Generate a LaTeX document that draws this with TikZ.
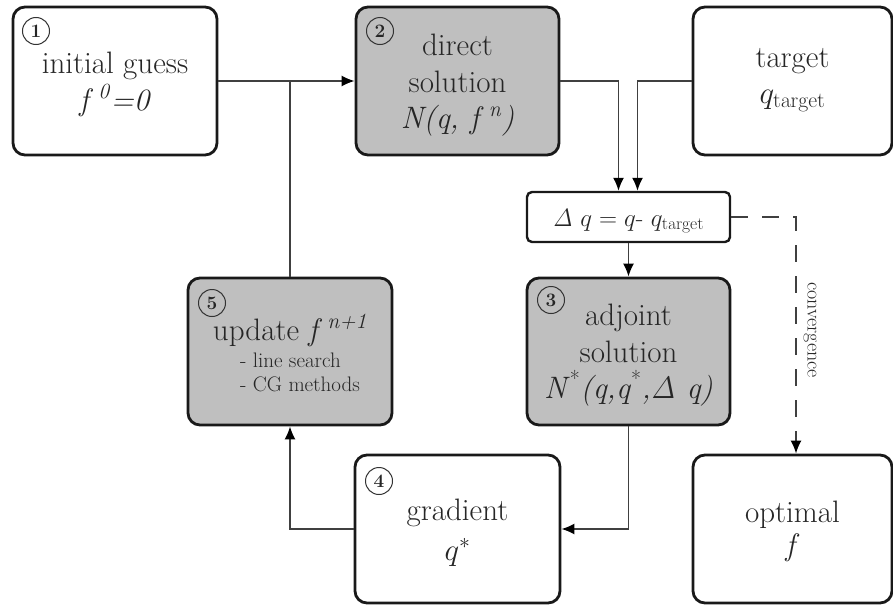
\RequirePackage{fix-cm}
\documentclass[tikz,border=0pt]{standalone}
\usetikzlibrary{arrows.meta}
\tikzset{
  box/.style={draw=black!90, line width=2.8pt, rounded corners=12pt, inner sep=0pt},
  graybox/.style={box, fill=black!25},
  big/.style={text=black!85, font=\fontsize{31}{37}\selectfont, anchor=base, inner sep=0pt},
  small/.style={text=black!85, font=\fontsize{21}{25}\selectfont, anchor=base west, inner sep=0pt},
  circnum/.style={draw=black!80, line width=1pt, circle, minimum size=27pt, inner sep=0pt, text=black!85, font=\fontsize{19}{21}\selectfont\bfseries},
  conn/.style={draw=black!75, line width=1.6pt},
  arr/.style={conn, -{Latex[length=13pt,width=11pt,color=black]}},
  dasharr/.style={arr, dash pattern=on 17pt off 14pt},
}
\begin{document}
\begin{tikzpicture}[x=1pt,y=-1pt]
\useasboundingbox (0,0) rectangle (893,605);
% boxes
\node[box, minimum width=204pt, minimum height=148pt] (b1) at (115,81) {};
\node[graybox, minimum width=203pt, minimum height=148pt] (b2) at (457.5,81) {};
\node[box, minimum width=199pt, minimum height=148pt] (tg) at (792.5,81) {};
\node[box, rounded corners=5pt, line width=2.4pt, minimum width=203pt, minimum height=50pt] (dq) at (628.5,217) {};
\node[graybox, minimum width=203pt, minimum height=147pt] (b3) at (628.5,351.5) {};
\node[graybox, minimum width=204pt, minimum height=147pt] (b5) at (290,351.5) {};
\node[box, minimum width=205pt, minimum height=148pt] (b4) at (457.5,529) {};
\node[box, minimum width=199pt, minimum height=148pt] (opt) at (792.5,529) {};
% numbers
\node[circnum] (n1) at (36,31) {1};
\node[circnum] (n2) at (380,31) {2};
\node[circnum] (n3) at (551,300) {3};
\node[circnum] (n4) at (379,481) {4};
\node[circnum] (n5) at (212,303) {5};
% texts
\node[big] (t1a) at (115,73) {initial guess};
\node[big] (t1b) at (115,110) {\textit{f}\,\textsuperscript{\textit{0}}\textit{=0}};
\node[big] (t2a) at (457.5,55) {direct};
\node[big] (t2b) at (457.5,92) {solution};
\node[big] (t2c) at (457.5,128) {\textit{N(q, f}\,\textsuperscript{\textit{n}}\textit{)}};
\node[big] (tga) at (792.5,67) {target};
\node[big] (tgb) at (792.5,103) {$q_{\mathrm{target}}$};
\node[text=black!85, font=\fontsize{25}{29}\selectfont, anchor=base, inner sep=0pt] (dqt) at (628.5,226) {$\mathit{\Delta}\ q = q$-\ $q_{\mathrm{target}}$};
\node[big] (t3a) at (628.5,325) {adjoint};
\node[big] (t3b) at (628.5,362) {solution};
\node[big] (t3c) at (628.5,398) {\textit{N}\textsuperscript{*}\textit{(q,q}\textsuperscript{*}\textit{,}$\mathit{\Delta}$\textit{\ q)}};
\node[big] (t5a) at (290,340) {update \textit{f}\,\textsuperscript{\textit{n+1}}};
\node[small] (t5b) at (240,367) {- line search};
\node[small] (t5c) at (240,391) {- CG methods};
\node[big] (t4a) at (457.5,520) {gradient};
\node[big] (t4b) at (457.5,560) {$q^{*}$};
\node[big] (toa) at (792.5,522) {optimal};
\node[big] (tob) at (792.5,555) {\textit{f}};
% connectors
\coordinate (j1) at (b5.north |- b1.east);
\draw[arr] (b1.east) -- (b2.west);
\draw[conn] (b5.north) -- (j1);
\coordinate (dqin1) at ([xshift=-10pt]dq.north);
\coordinate (dqin2) at ([xshift=9pt]dq.north);
\draw[arr] (b2.east) -| (dqin1);
\draw[arr] (tg.west) -| (dqin2);
\draw[arr] (dq.south) -- (b3.north);
\draw[arr] (b3.south) |- (b4.east);
\draw[arr] (b4.west) -| (b5.south);
\coordinate (optin) at ([xshift=3.5pt]opt.north);
\draw[dasharr] (dq.east) -| (optin);
\node[text=black!85, font=\fontsize{20}{24}\selectfont, rotate=-90, inner sep=0pt] (conv) at (810,330) {convergence};
\end{tikzpicture}
\end{document}
